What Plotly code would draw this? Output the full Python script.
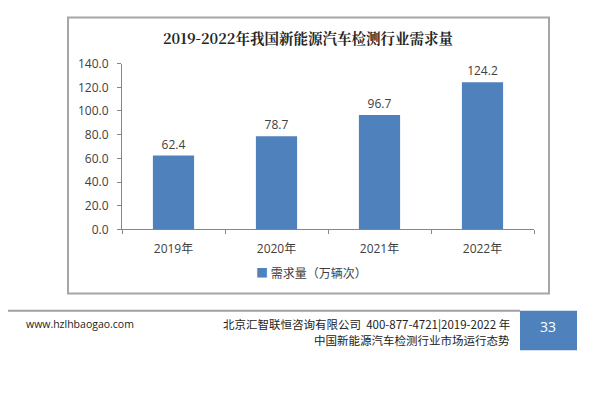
import plotly.graph_objects as go

categories = ["2019年", "2020年", "2021年", "2022年"]
demand = [62.4, 78.7, 96.7, 124.2]
value_labels = ["62.4", "78.7", "96.7", "124.2"]
series_name = "需求量（万辆次）"
title_text = "2019-2022年我国新能源汽车检测行业需求量"

W, H = 597, 407
def px(x): return x / W
def py(y): return 1 - y / H

fig = go.Figure()
fig.add_trace(go.Bar(
    x=categories, y=demand, name=series_name,
    marker=dict(color="#4f81bd", line=dict(width=0)),
    width=0.4,
    text=value_labels, textposition="outside", cliponaxis=False,
    textfont=dict(family="Open Sans, Noto Sans CJK SC", size=12, color="#404040"),
    showlegend=False,
))

font_main = "Open Sans, Noto Sans CJK SC"

fig.update_layout(
    width=W, height=H,
    margin=dict(l=0, r=0, t=0, b=0),
    paper_bgcolor="white", plot_bgcolor="white",
    showlegend=False,
    xaxis=dict(domain=[px(122), px(534)], showgrid=False, showline=True,
               linecolor="#868686", linewidth=1, ticks="outside",
               ticklen=4, tickcolor="#868686", tickson="boundaries",
               ticklabelstandoff=8,
               tickfont=dict(family=font_main, size=12, color="#404040")),
    yaxis=dict(domain=[py(230), py(57)], range=[0, 140], dtick=20,
               tickformat=".1f", showgrid=False, showline=True,
               linecolor="#868686", linewidth=1, ticks="outside",
               ticklen=4, tickcolor="#868686", zeroline=False,
               ticklabelstandoff=6,
               tickfont=dict(family=font_main, size=12, color="#404040")),
    shapes=[
        dict(type="rect", xref="paper", yref="paper", x0=px(68), x1=px(549),
             y0=py(297), y1=py(9), line=dict(color="#a6a6a6", width=2)),
        dict(type="line", xref="paper", yref="paper", x0=px(8), x1=px(520),
             y0=py(315), y1=py(315), line=dict(color="#a0a0a0", width=2)),
        dict(type="rect", xref="paper", yref="paper", x0=px(520), x1=px(577),
             y0=py(356), y1=py(315), fillcolor="#4f81bd", line=dict(width=0)),
    ],
    annotations=[
        dict(text="<b>" + title_text + "</b>", xref="paper", yref="paper",
             x=px(308), y=py(30), xanchor="center", yanchor="middle", showarrow=False,
             font=dict(family="Noto Serif CJK SC, Noto Sans CJK SC", size=14.5, color="#262626")),
        dict(text="<span style='color:#4f81bd'>■</span> " + series_name, xref="paper", yref="paper",
             x=px(254), y=py(275), xanchor="left", yanchor="middle", showarrow=False,
             font=dict(family="Noto Sans CJK SC", size=12, color="#404040")),
        dict(text="www.hzlhbaogao.com", xref="paper", yref="paper",
             x=px(24), y=py(329), xanchor="left", yanchor="middle", showarrow=False,
             font=dict(family=font_main, size=10.5, color="#222222")),
        dict(text="北京汇智联恒咨询有限公司  400-877-4721|2019-2022 年", xref="paper", yref="paper",
             x=px(512), y=py(329), xanchor="right", yanchor="middle", showarrow=False,
             font=dict(family="Noto Sans CJK SC", size=11.5, color="#222222")),
        dict(text="中国新能源汽车检测行业市场运行态势", xref="paper", yref="paper",
             x=px(512), y=py(345), xanchor="right", yanchor="middle", showarrow=False,
             font=dict(family="Noto Sans CJK SC", size=11.5, color="#222222")),
        dict(text="33", xref="paper", yref="paper",
             x=px(548), y=py(331), xanchor="center", yanchor="middle", showarrow=False,
             font=dict(family=font_main, size=14, color="white")),
    ],
)

fig.write_html("out.html")
